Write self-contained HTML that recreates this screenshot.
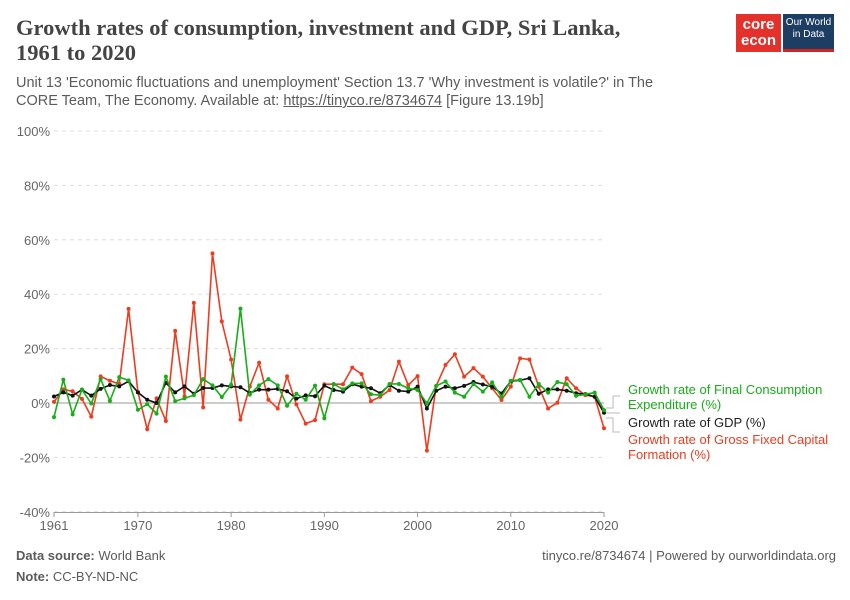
<!DOCTYPE html>
<html><head><meta charset="utf-8"><style>
body{margin:0;width:850px;height:600px;background:#fff;font-family:"Liberation Sans",sans-serif;overflow:hidden;position:relative}
.t{position:absolute;left:16px;top:15px;font-family:"Liberation Serif",serif;font-weight:bold;font-size:22.5px;line-height:25px;color:#444}
.s{position:absolute;left:16px;top:74px;font-size:14.5px;line-height:18px;color:#5b5b5b;width:670px}
.f{position:absolute;left:16px;font-size:13px;color:#5b5b5b}
</style></head><body>
<div class="t">Growth rates of consumption, investment and GDP, Sri Lanka,<br>1961 to 2020</div>
<div class="s">Unit 13 'Economic fluctuations and unemployment' Section 13.7 'Why investment is volatile?' in The CORE Team, The Economy. Available at: <u>https://tinyco.re/8734674</u> [Figure 13.19b]</div>
<div style="position:absolute;left:736px;top:14px;width:45px;height:38px;background:#e4312b;color:#fff;font-weight:bold;font-size:15px;line-height:16px;text-align:center;padding-top:3px;box-sizing:border-box">core<br>econ</div>
<div style="position:absolute;left:783px;top:14px;width:51px;height:38px;background:#1d3d63;color:#fff;font-size:10px;line-height:12px;text-align:center;padding-top:3px;box-sizing:border-box;border-bottom:3px solid #ce261e">Our World<br>in Data</div>
<svg id="c" width="850" height="600" style="position:absolute;left:0;top:0"></svg>
<div class="f" style="top:548px"><b>Data source:</b> World Bank</div>
<div class="f" style="top:569px"><b>Note:</b> CC-BY-ND-NC</div>
<div class="f" style="top:548px;left:auto;right:14px">tinyco.re/8734674 | Powered by ourworldindata.org</div>
<script>
const startYear=1961;
const consumption=[-5.2,8.6,-4.2,4.9,-0.2,8.8,0.8,9.5,8.3,-2.5,-0.4,-3.9,9.7,0.7,1.7,2.9,8.8,6.5,2.2,6.7,34.7,3.1,6.5,8.8,6.5,-1,3.4,1.2,6.4,-5.6,7,5,7.2,7.2,3.2,2.9,7,7,5.4,4.8,-0.1,6.3,7.9,3.8,2.3,7,4.2,7.6,2.3,8.2,8.5,2.3,7,3.8,7.7,6.9,2.6,3.2,3.8,-2.6];
const gdp=[2.4,3.9,2.7,4.9,2.7,5.2,6.6,6.1,8,3.9,1.2,0,7.4,3.9,6.1,3.4,5.5,5.5,6.5,6.1,5.8,3.7,4.9,4.9,5.2,4.3,1.6,2.8,2.5,6.4,4.8,4.2,6.9,6,5.4,3.6,6.6,4.5,4.2,6,-2,4.5,6,5.4,6.3,7.7,6.8,6,3.5,8,8.4,9.1,3.4,5,5,4.5,3.6,3.3,2.3,-3.6];
const gfcf=[0.4,5,4.3,1.5,-5,9.8,8.2,7,34.6,4,-9.6,1.7,-6.6,26.5,2.5,36.8,-1.6,55,30,16,-6.1,6,14.8,1.2,-2,9.8,-0.5,-7.6,-6.3,6.9,6.9,6.9,13,10.6,0.7,2.3,4.8,15.2,6.6,9.9,-17.5,6.3,14,17.9,9.7,12.8,9.7,5.4,1.1,6,16.4,16,6,-2,0.1,9.1,5.4,2.9,2.3,-9.3];
const yTicks=[-40,-20,0,20,40,60,80,100];
const xTicks=[1961,1970,1980,1990,2000,2010,2020];
const NS='http://www.w3.org/2000/svg',svg=document.getElementById('c');
const X=y=>54+(y-1961)*(550/59), Y=v=>403-v*2.72;
function mk(t,a,p){const e=document.createElementNS(NS,t);for(const k in a)e.setAttribute(k,a[k]);(p||svg).appendChild(e);return e;}
yTicks.forEach(v=>{
 const l=mk('line',{x1:54,x2:604,y1:Y(v),y2:Y(v),stroke:v===0?'#999':'#ddd','stroke-dasharray':v===0?'':'4,4'});
 
 
 const t=mk('text',{x:50,y:Y(v)+5,'text-anchor':'end','font-size':13,fill:'#666'});t.textContent=v+'%';
 
 
});
mk('line',{x1:54,x2:604,y1:512.5,y2:512.5,stroke:'#999'});
xTicks.forEach(y=>{
 mk('line',{x1:X(y),x2:X(y),y1:512,y2:517,stroke:'#999'});
 const t=mk('text',{x:X(y),y:530,'text-anchor':'middle','font-size':13,fill:'#666'});t.textContent=y;
 
 
});
function series(d,col,name){
 const g=mk('g',{});
 
 
 mk('polyline',{points:d.map((v,i)=>X(startYear+i)+','+Y(v)).join(' '),fill:'none',stroke:col,'stroke-width':1.6},g);
 d.forEach((v,i)=>mk('circle',{cx:X(startYear+i),cy:Y(v),r:2,fill:col},g));
}
series(gfcf,'#ee3c1f','gfcf-line');
series(gdp,'#111','gdp-line');
series(consumption,'#19ad19','consumption-line');
mk('path',{d:'M606 408H613V396H620M606 413H620M606 418H613V432H620',stroke:'#bbb',fill:'none'});
const labs=[['Growth rate of Final Consumption',394,'#19ad19'],['Expenditure (%)',409,'#19ad19'],['Growth rate of GDP (%)',427,'#222'],['Growth rate of Gross Fixed Capital',444,'#ee3c1f'],['Formation (%)',459,'#ee3c1f']];
labs.forEach(l=>{const t=mk('text',{x:628,y:l[1],'font-size':13,fill:l[2]});t.textContent=l[0];
 
 });
</script>
</body></html>
